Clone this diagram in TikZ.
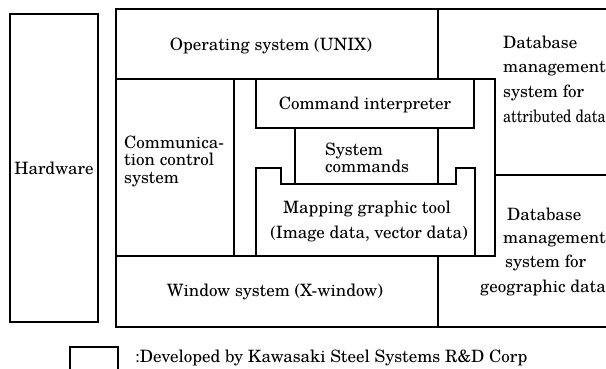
\documentclass[tikz,border=0pt]{standalone}
\usepackage{fontspec}
\setmainfont{TeX Gyre Schola}
\begin{document}
\begin{tikzpicture}[x=1pt,y=-1pt,
  rule/.style={line width=1.2pt, line cap=rect},
  lbl/.style={font=\fontsize{17}{20}\selectfont, inner sep=0pt},
  lblw/.style={lbl, anchor=base west},
  lblc/.style={lbl, anchor=base}]
\useasboundingbox (0,0) rectangle (606,368);

% hardware block
\draw[rule] (10,14) rectangle (98,322);

% software stack frame (open to the right)
\draw[rule] (606,9) -- (116,9) -- (116,327) -- (606,327);
\draw[rule] (116,79) -- (495,79);
\draw[rule] (438,9) -- (438,79);
\draw[rule] (234,79) -- (234,256);
\draw[rule] (495,79) -- (495,256);
\draw[rule] (116,256) -- (495,256);
\draw[rule] (438,256) -- (438,327);
\draw[rule] (495,175) -- (606,175);

% command interpreter, system commands, mapping tool
\draw[rule] (256,79) rectangle (474,128);
\draw[rule] (295,128) -- (295,184);
\draw[rule] (438,128) -- (438,184);
\draw[rule] (256,256) -- (256,168) -- (281,168) -- (281,184) -- (456,184)
  -- (456,168) -- (475,168) -- (475,256);

% legend box
\draw[rule] (70,347) rectangle (118,375);

% labels
\node[lblc] (hw) at (54,174) {Hardware};
\node[lblc] (os) at (271,50) {Operating system (UNIX)};
\node[lblw] (cc1) at (124,148) {Communica-};
\node[lblw] (cc2) at (124,165) {tion control};
\node[lblw] (cc3) at (124,183) {system};
\node[lblc] (ci) at (365,109) {Command interpreter};
\node[lblw] (sc1) at (325,155) {System};
\node[lblw] (sc2) at (325,172) {commands};
\node[lblc] (mg1) at (367,213) {Mapping graphic tool};
\node[lblc] (mg2) at (369,238) {(Image data, vector data)};
\node[lblc] (ws) at (275,296) {Window system (X-window)};
\node[lblw] (da1) at (503,48) {Database};
\node[lblw] (da2) at (503,72) {management};
\node[lblw] (da3) at (503,97) {system for};
\node[lblw] (da4) at (503,122) {\scalebox{0.85}[1]{attributed data}};
\node[lblw] (dg1) at (507,220) {Database};
\node[lblw] (dg2) at (503,243) {management};
\node[lblw] (dg3) at (505,267) {system for};
\node[lblw] (dg4) at (480,292) {geographic data};
\node[lblw] (lg) at (135,362) {:Developed by Kawasaki Steel Systems R\&D Corp};
\end{tikzpicture}
\end{document}
